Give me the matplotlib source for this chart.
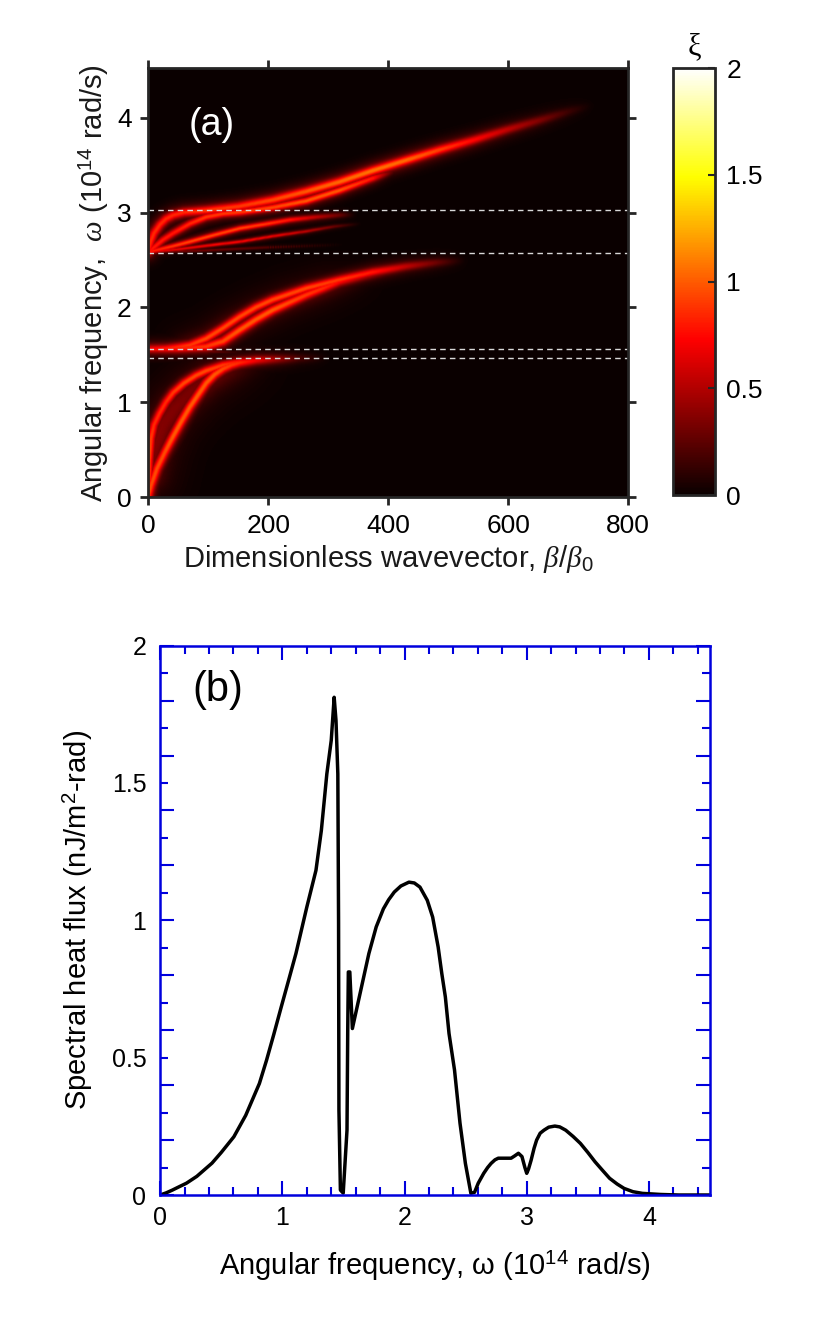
import numpy as np
import matplotlib
matplotlib.use("Agg")
import matplotlib.pyplot as plt

plt.rcParams["font.family"] = ["Liberation Sans", "DejaVu Sans"]
plt.rcParams["mathtext.fontset"] = "custom"
plt.rcParams["mathtext.rm"] = "Liberation Sans"
plt.rcParams["mathtext.it"] = "Liberation Serif:italic"

# ---------------- panel (a): dispersion branches ----------------
# lower band, two bright branches from the origin
l1_beta = [0, 2, 5, 10, 19, 30, 42, 60, 80, 97, 125, 153, 180, 208, 250]
l1_omega = [0, 0.40, 0.62, 0.76, 0.88, 1.00, 1.10, 1.20, 1.28, 1.33, 1.39, 1.425, 1.445, 1.455, 1.462]
l1_xi = [0.95, 0.95, 0.9, 0.85, 0.85, 0.85, 0.9, 0.95, 0.95, 0.95, 0.9, 0.8, 0.6, 0.35, 0.05]

l2_beta = [0, 5, 15, 28, 42, 56, 70, 84, 97, 111, 125, 139, 153, 180, 208, 250, 300]
l2_omega = [0, 0.12, 0.30, 0.47, 0.64, 0.80, 0.95, 1.08, 1.20, 1.29, 1.35, 1.39, 1.415, 1.44, 1.45, 1.46, 1.465]
l2_xi = [0.95, 0.95, 0.95, 0.95, 1.0, 1.0, 1.0, 1.0, 1.0, 1.0, 0.95, 0.9, 0.85, 0.7, 0.5, 0.2, 0.0]

# faint glow between the two lower branches
lg_beta = [2, 10, 25, 45, 70, 100, 130, 160, 200]
lg_omega = [0.25, 0.52, 0.76, 0.94, 1.10, 1.25, 1.34, 1.40, 1.44]
lg_xi = [0.32, 0.36, 0.36, 0.35, 0.33, 0.3, 0.24, 0.14, 0.0]

# thin line inside the first gap
g_beta = [0, 40, 90, 140, 200]
g_omega = [1.555, 1.545, 1.535, 1.525, 1.52]
g_xi = [0.9, 0.65, 0.4, 0.15, 0.0]

# middle band
m1_beta = [0, 30, 50, 70, 97, 125, 153, 180, 208, 264, 320, 375, 430, 480, 520]
m1_omega = [1.56, 1.565, 1.58, 1.60, 1.67, 1.78, 1.90, 2.00, 2.08, 2.20, 2.29, 2.37, 2.43, 2.47, 2.49]
m1_xi = [0.7, 0.8, 0.85, 0.9, 0.95, 0.95, 0.95, 0.95, 0.95, 0.95, 0.9, 0.8, 0.55, 0.3, 0.05]

m2_beta = [0, 50, 97, 125, 153, 180, 208, 236, 264, 292, 319, 360, 400, 450]
m2_omega = [1.56, 1.565, 1.585, 1.64, 1.76, 1.87, 1.97, 2.05, 2.13, 2.20, 2.27, 2.33, 2.38, 2.42]
m2_xi = [0.7, 0.8, 0.9, 0.95, 1.0, 1.0, 1.0, 0.95, 0.9, 0.85, 0.75, 0.55, 0.35, 0.1]

mg_beta = [60, 100, 140, 180, 230, 290, 350]
mg_omega = [1.59, 1.65, 1.80, 1.93, 2.07, 2.20, 2.30]
mg_xi = [0.2, 0.32, 0.36, 0.36, 0.34, 0.28, 0.1]

# upper band
u1_beta = [0, 5, 10, 20, 30, 42, 60, 97, 150, 208, 264, 319, 375, 431, 487, 542, 598, 653, 700, 740]
u1_omega = [2.58, 2.70, 2.78, 2.87, 2.93, 2.97, 3.00, 3.02, 3.06, 3.13, 3.22, 3.32, 3.44, 3.55, 3.66, 3.76, 3.87, 3.97, 4.06, 4.13]
u1_xi = [0.8, 0.85, 0.85, 0.85, 0.85, 0.85, 0.85, 0.9, 0.9, 0.95, 1.0, 1.05, 1.08, 1.05, 0.92, 0.75, 0.55, 0.35, 0.15, 0.0]

u2_beta = [0, 10, 25, 42, 70, 97, 125, 153, 208, 264, 319, 375, 420]
u2_omega = [2.58, 2.63, 2.71, 2.78, 2.88, 2.95, 2.985, 3.00, 3.05, 3.12, 3.23, 3.36, 3.46]
u2_xi = [0.75, 0.8, 0.8, 0.8, 0.85, 0.9, 0.9, 0.9, 0.95, 1.0, 1.0, 0.8, 0.0]

u3_beta = [0, 20, 40, 70, 110, 153, 200, 236, 280, 319, 345]
u3_omega = [2.58, 2.61, 2.64, 2.69, 2.76, 2.83, 2.88, 2.92, 2.95, 2.97, 2.975]
u3_xi = [0.8, 0.85, 0.9, 0.95, 0.95, 0.95, 0.9, 0.8, 0.55, 0.3, 0.0]

u4_beta = [0, 50, 100, 153, 210, 264, 310, 355]
u4_omega = [2.58, 2.61, 2.65, 2.69, 2.75, 2.80, 2.85, 2.88]
u4_xi = [0.7, 0.75, 0.75, 0.75, 0.7, 0.55, 0.3, 0.0]

u5_beta = [0, 100, 200, 330]
u5_omega = [2.58, 2.60, 2.63, 2.66]
u5_xi = [0.45, 0.35, 0.25, 0.0]

band_edges = [1.463, 1.558, 2.579, 3.024]

# ---------------- panel (b): spectral heat flux ----------------
omega_b = [0.0, 0.05, 0.10, 0.15, 0.215, 0.30, 0.424, 0.50, 0.603, 0.70, 0.812, 0.87,
           0.93, 0.991, 1.05, 1.111, 1.200, 1.275, 1.319, 1.364, 1.400, 1.424, 1.439,
           1.454, 1.460, 1.463, 1.475, 1.498, 1.529, 1.535, 1.540, 1.552, 1.573, 1.603,
           1.648, 1.708, 1.768, 1.827, 1.87, 1.916, 1.97, 2.036, 2.08, 2.126, 2.186,
           2.230, 2.275, 2.305, 2.334, 2.364, 2.409, 2.454, 2.498, 2.543, 2.573, 2.603,
           2.648, 2.68, 2.708, 2.74, 2.767, 2.872, 2.90, 2.932, 2.961, 2.985, 3.000,
           3.015, 3.036, 3.06, 3.081, 3.11, 3.141, 3.18, 3.230, 3.27, 3.319, 3.38,
           3.439, 3.50, 3.559, 3.62, 3.678, 3.74, 3.797, 3.87, 3.947, 4.096, 4.245, 4.50]
flux_b = [0.0, 0.008, 0.018, 0.029, 0.043, 0.068, 0.116, 0.155, 0.212, 0.29, 0.406, 0.49,
          0.585, 0.685, 0.78, 0.879, 1.048, 1.182, 1.327, 1.533, 1.655, 1.812, 1.727,
          1.533, 0.99, 0.309, 0.018, 0.007, 0.236, 0.60, 0.812, 0.812, 0.606, 0.667,
          0.758, 0.879, 0.976, 1.042, 1.075, 1.103, 1.125, 1.139, 1.136, 1.121, 1.073,
          1.012, 0.903, 0.806, 0.721, 0.588, 0.455, 0.261, 0.115, 0.006, 0.010, 0.043,
          0.079, 0.10, 0.115, 0.128, 0.134, 0.134, 0.142, 0.152, 0.140, 0.10, 0.079,
          0.095, 0.127, 0.17, 0.200, 0.225, 0.236, 0.247, 0.251, 0.248, 0.236, 0.213,
          0.188, 0.155, 0.121, 0.09, 0.061, 0.04, 0.024, 0.012, 0.006, 0.002, 0.0, 0.0]

branches = [
    (lg_beta, lg_omega, lg_xi, 10.0),
    (mg_beta, mg_omega, mg_xi, 7.0),
    (l1_beta, l1_omega, l1_xi, 2.8),
    (l2_beta, l2_omega, l2_xi, 3.0),
    (g_beta, g_omega, g_xi, 1.1),
    (m1_beta, m1_omega, m1_xi, 2.8),
    (m2_beta, m2_omega, m2_xi, 3.0),
    (u1_beta, u1_omega, u1_xi, 3.0),
    (u2_beta, u2_omega, u2_xi, 2.4),
    (u3_beta, u3_omega, u3_xi, 1.8),
    (u4_beta, u4_omega, u4_xi, 1.1),
    (u5_beta, u5_omega, u5_xi, 0.9),
]

beta_max, omega_max = 800, 4.52
nb, nw = 480, 430


def ridge_image(branches):
    sx, sy = nb / beta_max, nw / omega_max
    gx = np.arange(nb) + 0.5
    gy = np.arange(nw) + 0.5
    img = np.zeros((nw, nb))
    for beta, omega, xi, sig in branches:
        idx = np.arange(len(beta))
        t = np.linspace(0, len(beta) - 1, (len(beta) - 1) * 30 + 1)
        px = np.interp(t, idx, beta) * sx
        py = np.interp(t, idx, omega) * sy
        amp = np.interp(t, idx, xi)
        m = 7 * sig
        c0, c1 = max(int(px.min() - m), 0), min(int(px.max() + m) + 1, nb)
        r0, r1 = max(int(py.min() - m), 0), min(int(py.max() + m) + 1, nw)
        xs = gx[c0:c1]
        for r in range(r0, r1):
            d2 = (xs[:, None] - px[None, :]) ** 2 + (gy[r] - py[None, :]) ** 2
            # bright core plus a soft halo
            prof = 0.72 * np.exp(-d2 / (2 * sig ** 2)) + 0.28 * np.exp(-d2 / (2 * (2.4 * sig) ** 2))
            v = (amp[None, :] * prof).max(axis=1)
            img[r, c0:c1] = np.maximum(img[r, c0:c1], v)
    return img


img = ridge_image(branches)

fig = plt.figure(figsize=(8.16, 13.19), dpi=100)
dark = "#262626"

# ---- (a)
ax = fig.add_axes([0.1817, 0.6230, 0.5882, 0.3252])
im = ax.imshow(img, extent=[0, beta_max, 0, omega_max], origin="lower", cmap="hot",
               vmin=0, vmax=2, aspect="auto", interpolation="bilinear")
for w in band_edges:
    ax.axhline(w, color="#d8d8d8", lw=1.0, ls=(0, (4, 3)))
ax.set_xlim(0, 800)
ax.set_ylim(0, omega_max)
ax.set_xticks([0, 200, 400, 600, 800])
ax.set_yticks([0, 1, 2, 3, 4])
ax.tick_params(direction="out", length=6, width=2, color=dark, labelsize=19,
               top=True, right=True, pad=6)
for s in ax.spines.values():
    s.set_linewidth(2)
    s.set_color(dark)
ax.set_xlabel(r"Dimensionless wavevector, $\beta/\beta_{0}$", fontsize=21, labelpad=4, color="#1a1a1a")
ax.set_ylabel(r"Angular frequency,  $\omega$ (10$^{14}$ rad/s)", fontsize=21, labelpad=4, color="#1a1a1a")
ax.text(0.133, 0.868, "(a)", transform=ax.transAxes, color="white", fontsize=27,
        ha="center", va="center")

cax = fig.add_axes([0.8248, 0.6247, 0.0515, 0.3237])
cb = fig.colorbar(im, cax=cax, ticks=[0, 0.5, 1, 1.5, 2])
cb.ax.set_yticklabels(["0", "0.5", "1", "1.5", "2"])
cb.outline.set_linewidth(2)
cb.outline.set_edgecolor(dark)
cax.tick_params(direction="in", length=5, width=1.5, color=dark, labelsize=19, pad=8)
cax.set_title("ξ", fontfamily="Liberation Serif", fontsize=22, pad=10)

# ---- (b)
blue = "#0000dd"
bx = fig.add_axes([0.1963, 0.0940, 0.6738, 0.4165])
bx.plot(omega_b, flux_b, color="black", lw=2.5)
bx.set_xlim(0, 4.5)
bx.set_ylim(0, 2)
bx.set_xticks([0, 1, 2, 3, 4])
bx.set_xticks(np.arange(0, 4.51, 0.2), minor=True)
bx.set_yticks(np.arange(0, 2.01, 0.2))
bx.set_yticks(np.arange(0.1, 2.0, 0.2), minor=True)
bx.set_yticklabels([])
bx.tick_params(which="both", direction="in", top=True, right=True, color=blue, width=1.5)
bx.tick_params(which="major", length=10, labelsize=18, pad=8)
bx.tick_params(which="minor", length=6)
for s in bx.spines.values():
    s.set_linewidth(1.8)
    s.set_color(blue)
sec = bx.secondary_yaxis("left")
sec.set_yticks([0, 0.5, 1, 1.5, 2])
sec.set_yticklabels(["0", "0.5", "1", "1.5", "2"])
sec.tick_params(length=0, labelsize=18, pad=10)
sec.spines["left"].set_visible(False)
bx.set_xlabel("Angular frequency, ω (10$^{14}$ rad/s)", fontsize=21, labelpad=14)
sec.set_ylabel("Spectral heat flux (nJ/m$^{2}$-rad)", fontsize=21, labelpad=12)
bx.text(0.105, 0.919, "(b)", transform=bx.transAxes, fontsize=30, ha="center", va="center")

fig.savefig("out.png", dpi=100)
